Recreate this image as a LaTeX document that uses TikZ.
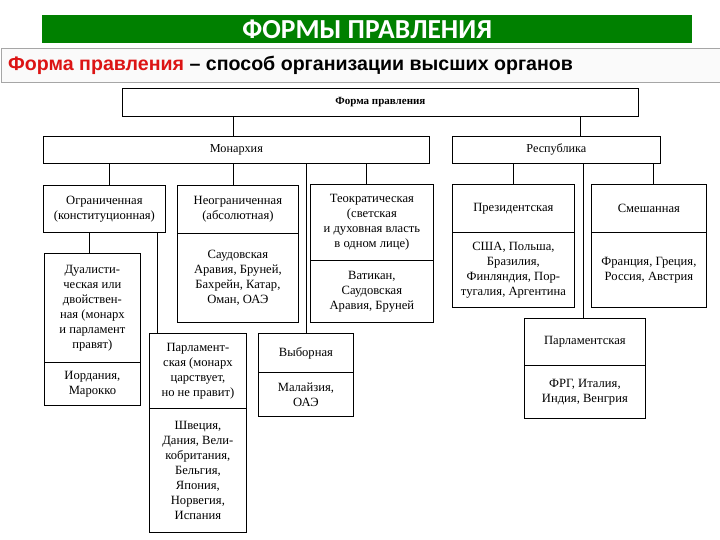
\documentclass[tikz,border=0pt]{standalone}
\usepackage{fontspec}
\setmainfont{Liberation Serif}
\newfontfamily\titlefont{Carlito}
\newfontfamily\subfont{Liberation Sans}
\definecolor{titlegreen}{RGB}{0,128,0}
\definecolor{subred}{RGB}{220,20,20}
\begin{document}
\begin{tikzpicture}[x=1pt,y=-1pt,
  box/.style={draw, line width=0.8pt, rectangle, align=center, inner sep=0pt,
    font=\fontsize{12.6}{15}\selectfont, anchor=north west},
  toplabel/.style={font=\fontsize{12.2}{15}\selectfont},
  conn/.style={line width=0.8pt}]
\useasboundingbox (0,0) rectangle (720,540);
% title
\node[anchor=north west, fill=titlegreen, minimum width=650pt, minimum height=28pt,
  inner sep=0pt, text=white, font=\titlefont\bfseries\fontsize{27.5}{28}\selectfont] (title) at (42,15) {ФОРМЫ ПРАВЛЕНИЯ};
\node[anchor=north west, draw=gray!70, fill=gray!4, minimum width=719pt, minimum height=34pt, inner sep=0pt] (sub) at (0.5,48) {};
\node[anchor=base west, inner sep=0pt, font=\subfont\bfseries\fontsize{19.6}{22}\selectfont] (subtext) at (8,70.5)
  {\textcolor{subred}{Форма правления} – способ организации высших органов};
% boxes
\node[box, minimum width=516pt, minimum height=28pt, font=\bfseries\fontsize{11}{13}\selectfont] (forma) at (122,88) {Форма правления};
\node[box, toplabel, minimum width=386pt, minimum height=27pt] (mon) at (43,136) {Монархия};
\node[box, toplabel, minimum width=208pt, minimum height=27pt] (rep) at (452,136) {Республика};
\node[box, minimum width=122pt, minimum height=47pt] (ogr) at (43,185) {Ограниченная\\(конституционная)};
\node[box, minimum width=121pt, minimum height=48pt] (neogr) at (177,185) {Неограниченная\\(абсолютная)};
\node[box, minimum width=121pt, minimum height=89pt] (neogrL) at (177,233) {Саудовская\\Аравия, Бруней,\\Бахрейн, Катар,\\Оман, ОАЭ};
\node[box, minimum width=123pt, minimum height=76pt] (teo) at (310,184) {Теократическая\\(светская\\и духовная власть\\в одном лице)};
\node[box, minimum width=123pt, minimum height=62pt] (teoL) at (310,260) {Ватикан,\\Саудовская\\Аравия, Бруней};
\node[box, minimum width=122pt, minimum height=48pt] (pres) at (452,184) {Президентская};
\node[box, minimum width=122pt, minimum height=75pt] (presL) at (452,232) {США, Польша,\\Бразилия,\\Финляндия, Пор-\\тугалия, Аргентина};
\node[box, minimum width=115pt, minimum height=48pt] (mix) at (591,184) {Смешанная};
\node[box, minimum width=115pt, minimum height=75pt] (mixL) at (591,232) {Франция, Греция,\\Россия, Австрия};
\node[box, minimum width=96pt, minimum height=109pt] (dual) at (44,253) {Дуалисти-\\ческая или\\двойствен-\\ная (монарх\\и парламент\\правят)};
\node[box, minimum width=96pt, minimum height=43pt] (dualL) at (44,362) {Иордания,\\Марокко};
\node[box, minimum width=97pt, minimum height=75pt] (parlm) at (149,333) {Парламент-\\ская (монарх\\царствует,\\но не правит)};
\node[box, minimum width=97pt, minimum height=124pt] (parlmL) at (149,408) {Швеция,\\Дания, Вели-\\кобритания,\\Бельгия,\\Япония,\\Норвегия,\\Испания};
\node[box, minimum width=95pt, minimum height=39pt] (vyb) at (258,333) {Выборная};
\node[box, minimum width=95pt, minimum height=44pt] (vybL) at (258,372) {Малайзия,\\ОАЭ};
\node[box, minimum width=121pt, minimum height=47pt] (parlr) at (524,318) {Парламентская};
\node[box, minimum width=121pt, minimum height=53pt] (parlrL) at (524,365) {ФРГ, Италия,\\Индия, Венгрия};
% connectors
\draw[conn] ([xshift=-3pt]mon.north |- forma.south) -- ([xshift=-3pt]mon.north);
\draw[conn] ([xshift=24pt]rep.north |- forma.south) -- ([xshift=24pt]rep.north);
\draw[conn] ([xshift=5pt]ogr.north |- mon.south) -- ([xshift=5pt]ogr.north);
\draw[conn] ([xshift=-4.5pt]neogr.north |- mon.south) -- ([xshift=-4.5pt]neogr.north);
\draw[conn] (vyb.north |- mon.south) -- (vyb.north);
\draw[conn] ([xshift=-5.5pt]teo.north |- mon.south) -- ([xshift=-5.5pt]teo.north);
\draw[conn] ([xshift=-3pt]dual.north |- ogr.south) -- ([xshift=-3pt]dual.north);
\draw[conn] ([xshift=8pt]parlm.north west |- ogr.south) -- ([xshift=8pt]parlm.north west);
\draw[conn] (pres.north |- rep.south) -- (pres.north);
\draw[conn] ([xshift=-2pt]parlr.north |- rep.south) -- ([xshift=-2pt]parlr.north);
\draw[conn] ([xshift=4.5pt]mix.north |- rep.south) -- ([xshift=4.5pt]mix.north);
\end{tikzpicture}
\end{document}
